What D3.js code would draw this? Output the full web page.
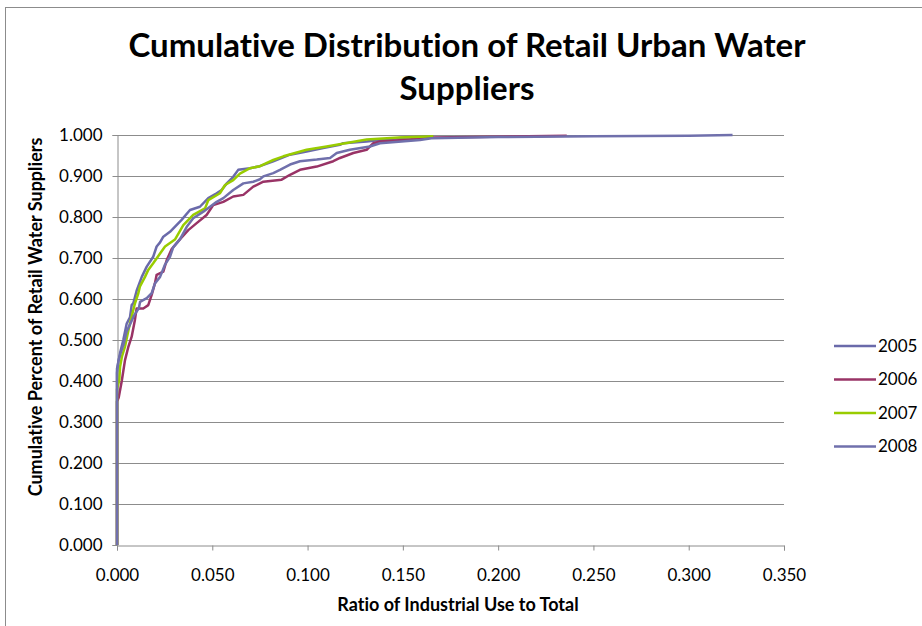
<!DOCTYPE html>
<html>
<head>
<meta charset="utf-8">
<script src="https://cdn.jsdelivr.net/npm/d3@7"></script>
<style>
  body { margin: 0; background: #fff; }
  svg { display: block; font-family: Lato, "Open Sans", sans-serif; font-variant-ligatures: none; }
</style>
</head>
<body>
<script>
const width = 922;
const height = 626;

// series names and colours
const seriesNames = ["2005", "2006", "2007", "2008"];
const seriesColors = ["#6a6aaa", "#993366", "#99cc00", "#7070ac"];

// [ratio, cumulative] pairs
const data2005 = [[0,0],[0,0.43],[0.0002,0.435],[0.0016,0.468],[0.0033,0.50],[0.0051,0.54],[0.0068,0.555],[0.0077,0.585],[0.0086,0.59],[0.0103,0.62],[0.013,0.654],[0.0156,0.679],[0.019,0.703],[0.0208,0.728],[0.0226,0.738],[0.0243,0.752],[0.0278,0.764],[0.0339,0.793],[0.0383,0.817],[0.0435,0.825],[0.0479,0.846],[0.0523,0.858],[0.0549,0.866],[0.0576,0.882],[0.061,0.898],[0.0636,0.915],[0.0698,0.919],[0.075,0.924],[0.082,0.936],[0.0908,0.952],[0.0995,0.960],[0.1082,0.968],[0.117,0.976],[0.1187,0.980],[0.131,0.984],[0.138,0.988],[0.150,0.993],[0.159,0.995],[0.166,0.997]];
const data2006 = [[0,0],[0,0.35],[0.0009,0.36],[0.0025,0.40],[0.0042,0.451],[0.006,0.484],[0.0077,0.508],[0.0094,0.549],[0.0103,0.577],[0.0138,0.577],[0.0164,0.585],[0.0182,0.61],[0.0199,0.638],[0.0208,0.659],[0.0243,0.667],[0.0261,0.695],[0.0287,0.722],[0.0331,0.746],[0.0374,0.768],[0.0418,0.785],[0.047,0.805],[0.0505,0.829],[0.0558,0.837],[0.061,0.850],[0.0663,0.854],[0.0715,0.874],[0.0768,0.886],[0.0864,0.891],[0.0908,0.903],[0.096,0.915],[0.1048,0.923],[0.1135,0.936],[0.117,0.944],[0.124,0.956],[0.131,0.964],[0.1345,0.980],[0.138,0.984],[0.150,0.988],[0.166,0.994],[0.236,0.998]];
const data2007 = [[0,0],[0,0.38],[0.0012,0.402],[0.0016,0.435],[0.0026,0.46],[0.0042,0.484],[0.006,0.524],[0.0077,0.557],[0.0094,0.589],[0.0112,0.614],[0.012,0.63],[0.0147,0.654],[0.0164,0.671],[0.019,0.687],[0.0226,0.711],[0.0252,0.728],[0.0304,0.745],[0.0348,0.78],[0.040,0.805],[0.0462,0.821],[0.0479,0.841],[0.054,0.858],[0.0567,0.878],[0.061,0.890],[0.0645,0.906],[0.0698,0.919],[0.075,0.924],[0.082,0.939],[0.0873,0.948],[0.0995,0.964],[0.110,0.972],[0.131,0.989],[0.148,0.994],[0.166,0.997]];
const data2008 = [[0,0],[0,0.42],[0.0008,0.45],[0.002,0.47],[0.0035,0.49],[0.005,0.52],[0.007,0.54],[0.009,0.56],[0.0115,0.578],[0.0121,0.593],[0.0156,0.602],[0.0182,0.614],[0.0199,0.638],[0.0226,0.654],[0.0252,0.684],[0.0278,0.703],[0.0295,0.726],[0.0331,0.746],[0.0366,0.776],[0.040,0.797],[0.0453,0.813],[0.0488,0.825],[0.0523,0.837],[0.0558,0.846],[0.061,0.866],[0.0663,0.882],[0.0715,0.886],[0.075,0.892],[0.0768,0.899],[0.082,0.907],[0.0855,0.915],[0.0908,0.928],[0.096,0.936],[0.1048,0.940],[0.1118,0.944],[0.1153,0.956],[0.1222,0.964],[0.1327,0.972],[0.138,0.980],[0.159,0.988],[0.165,0.992],[0.20,0.995],[0.25,0.997],[0.30,0.998],[0.323,1.0]];
const allSeries = [data2005, data2006, data2007, data2008];

const xTicks = [0, 0.05, 0.1, 0.15, 0.2, 0.25, 0.3, 0.35];
const yTicks = [0, 0.1, 0.2, 0.3, 0.4, 0.5, 0.6, 0.7, 0.8, 0.9, 1.0];

const titleLines = ["Cumulative Distribution of Retail Urban Water", "Suppliers"];
const xTitle = "Ratio of Industrial Use to Total";
const yTitle = "Cumulative Percent of Retail Water Suppliers";

const plot = { left: 117, right: 784, top: 135, bottom: 545 };
const gridColor = "#8c8c8c";

const svg = d3.select("body")
    .append("svg")
    .attr("width", width)
    .attr("height", height);

// outer chart border (cut off at right and bottom)
svg.append("rect")
    .attr("x", 5.5)
    .attr("y", 7.5)
    .attr("width", width)
    .attr("height", height)
    .attr("fill", "#fff")
    .attr("stroke", gridColor);

const x = d3.scaleLinear().domain([0, 0.35]).range([plot.left, plot.right]);
const y = d3.scaleLinear().domain([0, 1]).range([plot.bottom, plot.top]);

// horizontal gridlines
svg.append("g")
    .selectAll("line")
    .data(yTicks.slice(1))
    .enter()
    .append("line")
    .attr("x1", plot.left)
    .attr("x2", plot.right)
    .attr("y1", d => Math.round(y(d)) + 0.5)
    .attr("y2", d => Math.round(y(d)) + 0.5)
    .attr("stroke", gridColor);

// axes
const xAxis = svg.append("g")
    .attr("transform", `translate(0, ${plot.bottom + 0.5})`)
    .call(d3.axisBottom(x).tickValues(xTicks).tickFormat(d3.format(".3f")).tickSize(5).tickPadding(18));
const yAxis = svg.append("g")
    .attr("transform", `translate(${plot.left + 0.5}, 0)`)
    .call(d3.axisLeft(y).tickValues(yTicks).tickFormat(d3.format(".3f")).tickSize(5).tickPadding(10));

[xAxis, yAxis].forEach(ax => {
    ax.select(".domain").attr("stroke", gridColor);
    ax.selectAll(".tick line").attr("stroke", gridColor);
    ax.selectAll(".tick text")
        .attr("fill", "#000")
        .style("font-size", "17px")
        .style("font-family", "Lato, sans-serif");
});

// series lines
const line = d3.line()
    .x(d => x(d[0]))
    .y(d => y(d[1]));

svg.append("g")
    .selectAll("path")
    .data(allSeries)
    .enter()
    .append("path")
    .attr("d", line)
    .attr("fill", "none")
    .attr("stroke", (d, i) => seriesColors[i])
    .attr("stroke-width", 2.5)
    .attr("stroke-linejoin", "round");

// title
svg.append("text")
    .attr("text-anchor", "middle")
    .attr("font-weight", "bold")
    .attr("font-size", 33)
    .selectAll("tspan")
    .data(titleLines)
    .enter()
    .append("tspan")
    .attr("x", 467)
    .attr("y", (d, i) => 57 + i * 43)
    .text(d => d);

// axis titles
svg.append("text")
    .attr("x", 458)
    .attr("y", 611)
    .attr("text-anchor", "middle")
    .attr("font-weight", "bold")
    .attr("font-size", 18)
    .text(xTitle);

svg.append("text")
    .attr("transform", "translate(42, 317) rotate(-90)")
    .attr("text-anchor", "middle")
    .attr("font-weight", "bold")
    .attr("font-size", 18)
    .text(yTitle);

// legend
const legend = svg.append("g")
    .selectAll("g")
    .data(seriesNames)
    .enter()
    .append("g")
    .attr("transform", (d, i) => `translate(834, ${346 + i * 33.5})`);

legend.append("line")
    .attr("x1", 0)
    .attr("x2", 42)
    .attr("stroke", (d, i) => seriesColors[i])
    .attr("stroke-width", 2.5);

legend.append("text")
    .attr("x", 44)
    .attr("dy", "0.35em")
    .attr("font-size", 17)
    .text(d => d);
</script>
</body>
</html>
